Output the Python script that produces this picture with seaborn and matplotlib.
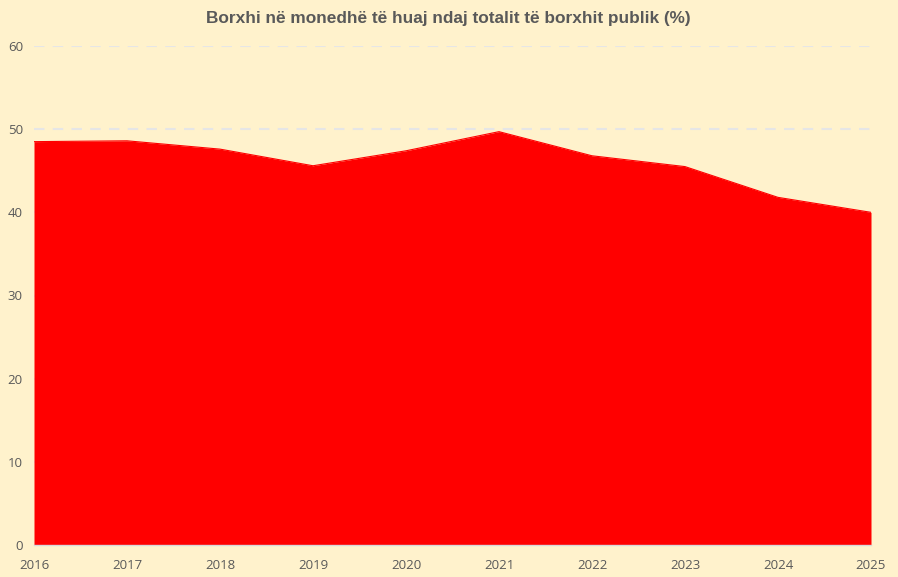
import matplotlib
matplotlib.use("Agg")
import matplotlib.pyplot as plt
import seaborn as sns
import pandas as pd

years = [2016, 2017, 2018, 2019, 2020, 2021, 2022, 2023, 2024, 2025]
share = [48.5, 48.6, 47.6, 45.6, 47.4, 49.7, 46.8, 45.5, 41.8, 40.0]

df = pd.DataFrame({"year": years, "share": share})

bg = "#FFF2CC"
sns.set_theme(style="white", rc={"axes.facecolor": bg, "figure.facecolor": bg})
plt.rcParams["font.family"] = ["Open Sans", "DejaVu Sans"]

fig = plt.figure(figsize=(8.98, 5.77), dpi=100)
ax = fig.add_axes([34 / 898, 1 - 545 / 577, (871 - 34) / 898, (545 - 46) / 577])

sns.lineplot(data=df, x="year", y="share", ax=ax, color="#FF0000", linewidth=0.8, zorder=3)
ax.fill_between(df["year"], df["share"], 0, color="#FF0000", linewidth=0, zorder=3)

ax.set_xlim(2016, 2025)
ax.set_ylim(0, 60)
ax.set_xticks(years)
ax.set_yticks(range(0, 61, 10))
ax.set_xlabel("")
ax.set_ylabel("")

ax.yaxis.grid(True, color="#E6E6E6", linestyle=(0, (5, 4)), linewidth=1.5, zorder=1)
ax.set_axisbelow(True)

for s in ["top", "right", "left"]:
    ax.spines[s].set_visible(False)
ax.spines["bottom"].set_color("#D9D9D9")
ax.spines["bottom"].set_linewidth(1)
ax.spines["bottom"].set_zorder(4)

ax.tick_params(axis="x", colors="#595959", labelsize=9.5, length=4, color="#D9D9D9", pad=6)
ax.tick_params(axis="y", colors="#595959", labelsize=9.5, length=0, pad=8)
for lbl in ax.get_yticklabels():
    lbl.set_horizontalalignment("right")

fig.text(0.5 - 1 / 898, 1 - 19 / 577, "Borxhi në monedhë të huaj ndaj totalit të borxhit publik (%)",
         ha="center", va="center", fontsize=12.4, fontweight="bold", color="#595959",
         family=["Liberation Sans", "DejaVu Sans"])

fig.savefig("out.png", dpi=100, facecolor=bg)
